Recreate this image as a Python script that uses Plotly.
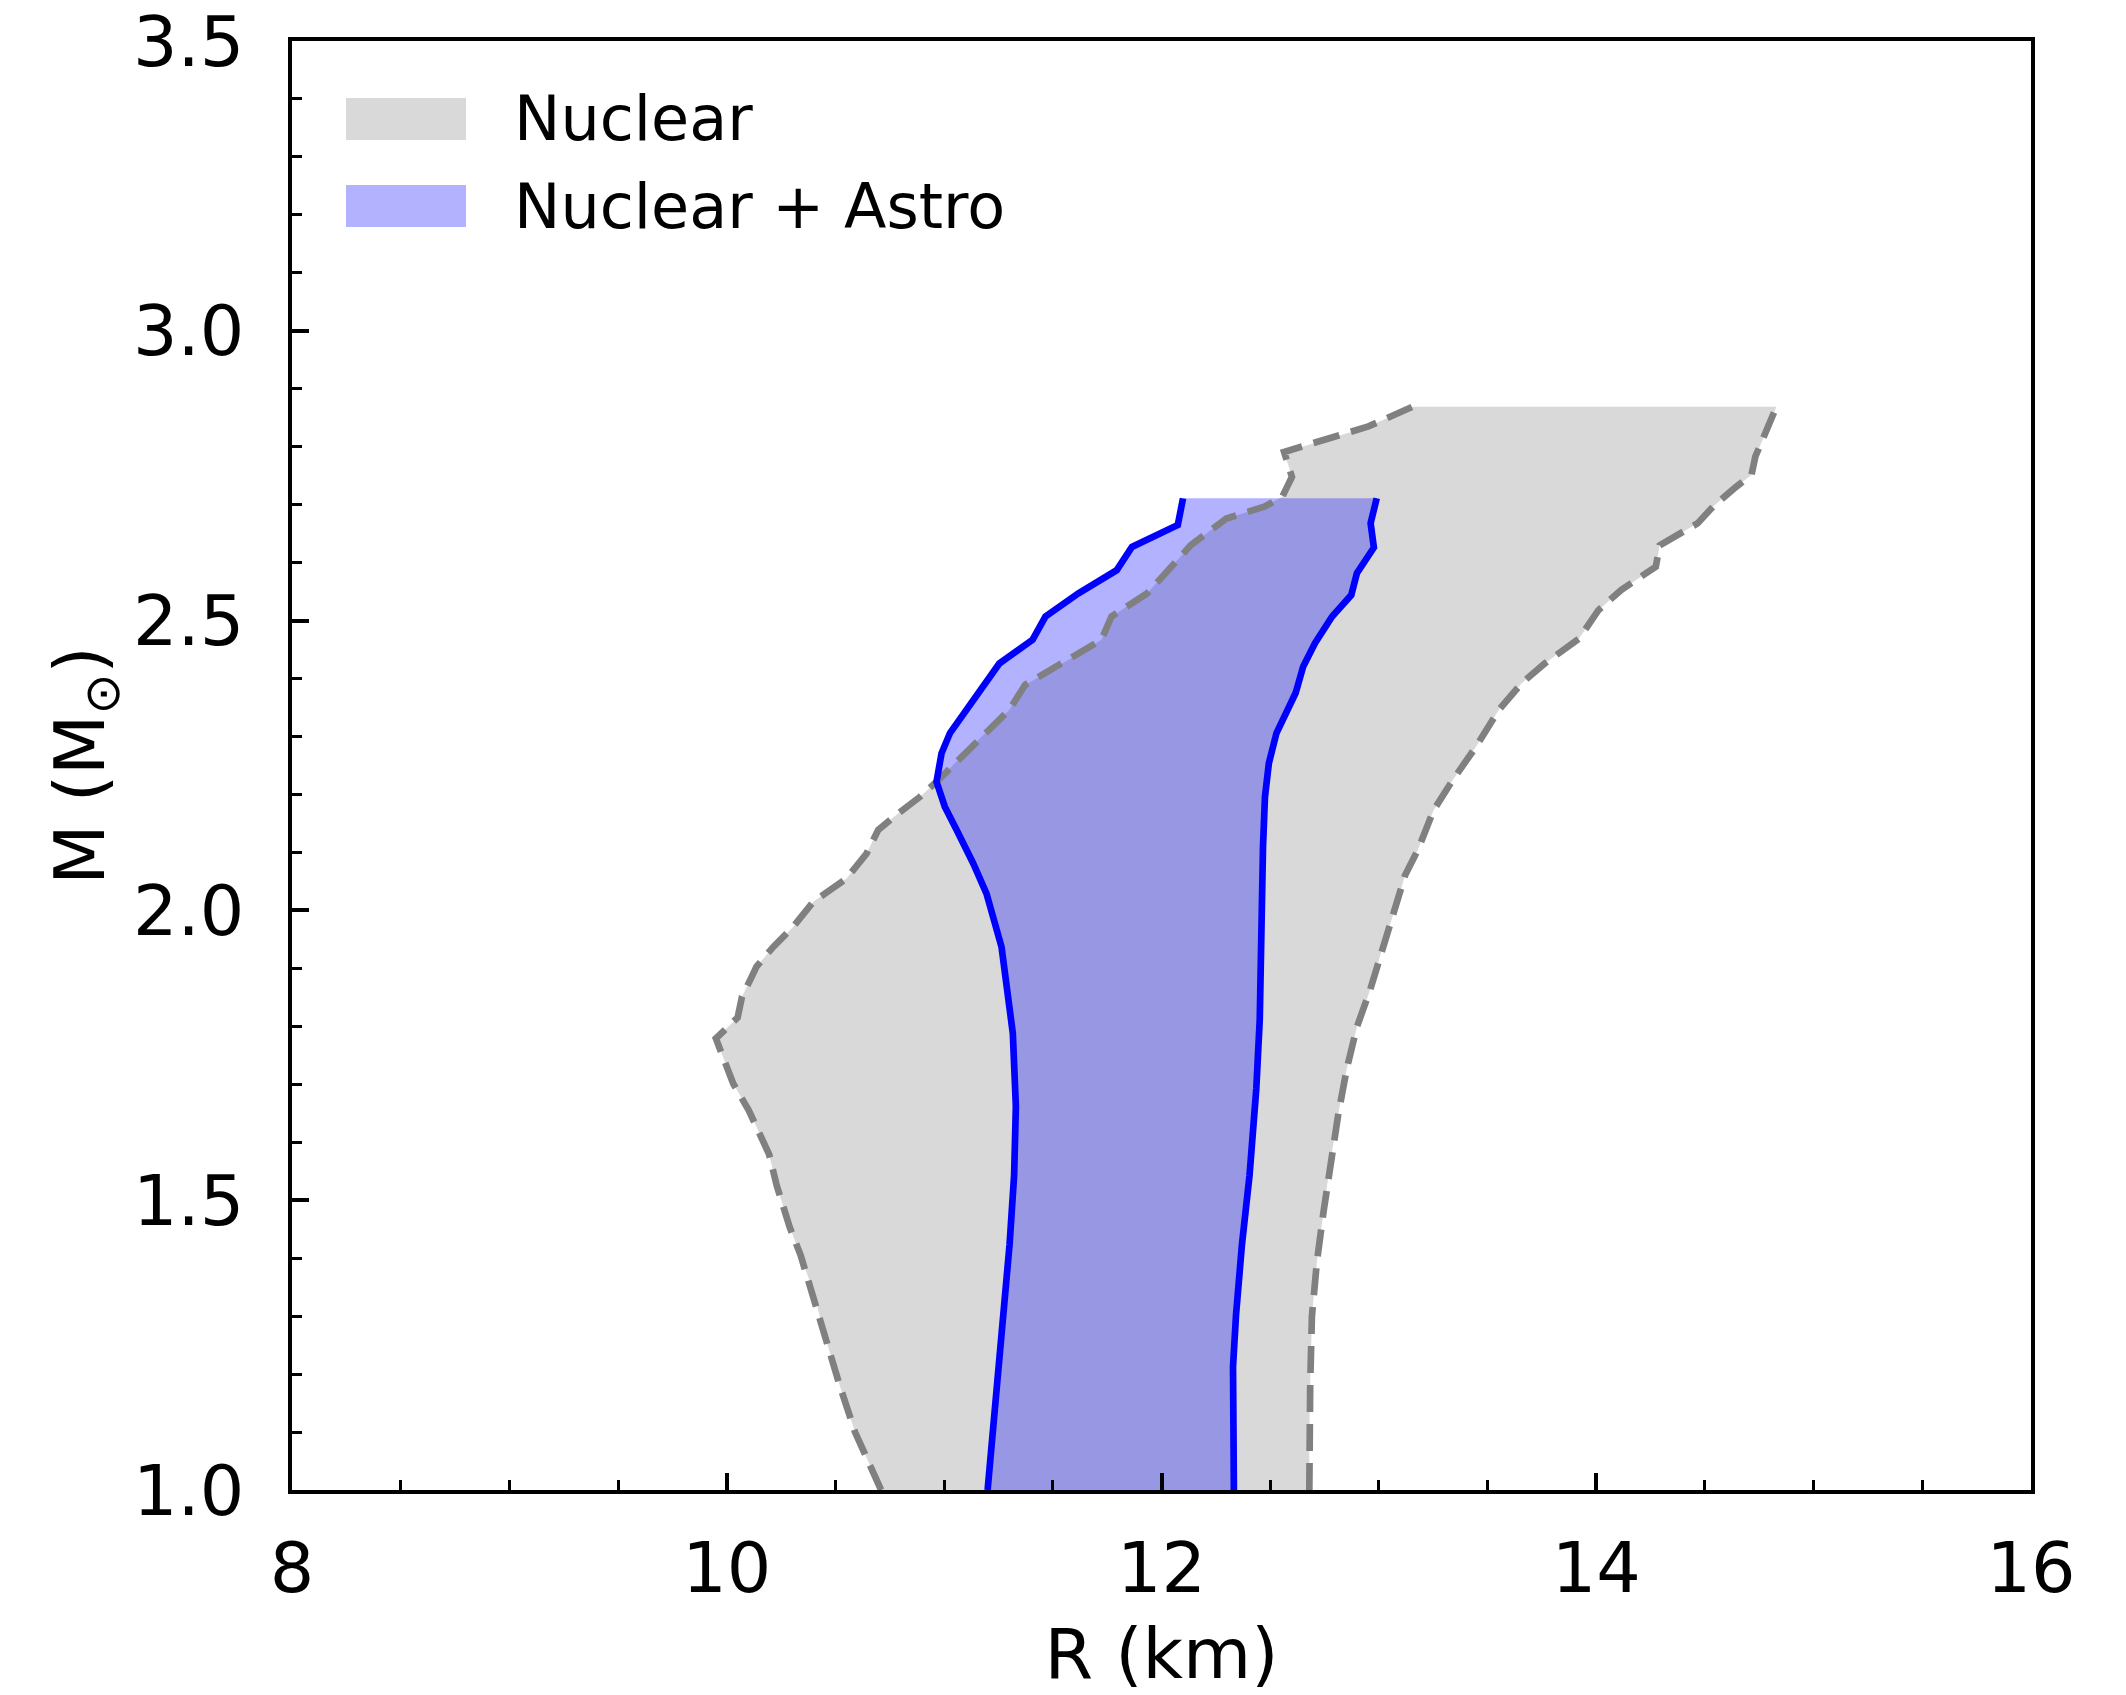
import plotly.graph_objects as go

# ---------------- data (R in km, M in solar masses) ----------------
nuc_left_R = [10.71, 10.65, 10.59, 10.52, 10.46, 10.40, 10.34, 10.29, 10.23, 10.195,
              10.10, 10.03, 9.95, 10.05, 10.07, 10.113, 10.137, 10.214, 10.306, 10.398,
              10.459, 10.551, 10.643, 10.697, 10.781, 10.889, 10.965, 11.057, 11.165, 11.30,
              11.372, 11.571, 11.724, 11.77, 11.934, 12.087, 12.134, 12.298, 12.476, 12.556,
              12.60, 12.564, 12.758, 12.952, 13.155]
nuc_left_M = [1.00, 1.05, 1.10, 1.18, 1.255, 1.34, 1.405, 1.453, 1.525, 1.579,
              1.656, 1.701, 1.779, 1.815, 1.851, 1.884, 1.903, 1.937, 1.972, 2.015,
              2.031, 2.055, 2.098, 2.139, 2.165, 2.196, 2.222, 2.257, 2.297, 2.346,
              2.389, 2.432, 2.467, 2.507, 2.547, 2.61, 2.63, 2.676, 2.697, 2.714,
              2.748, 2.791, 2.812, 2.835, 2.869]

nuc_right_R = [12.68, 12.68, 12.684, 12.692, 12.715, 12.745, 12.776, 12.814, 12.853, 12.899,
               12.96, 13.021, 13.083, 13.12, 13.18, 13.252, 13.34, 13.446, 13.552, 13.657,
               13.763, 13.921, 14.01, 14.115, 14.274, 14.292, 14.467, 14.538, 14.644, 14.714,
               14.732, 14.785, 14.829]
nuc_right_M = [1.00, 1.093, 1.18, 1.30, 1.394, 1.479, 1.564, 1.650, 1.728, 1.799,
               1.863, 1.941, 2.012, 2.06, 2.105, 2.173, 2.225, 2.282, 2.346, 2.392,
               2.426, 2.469, 2.518, 2.553, 2.593, 2.630, 2.668, 2.697, 2.731, 2.751,
               2.783, 2.829, 2.869]

astro_left_R = [11.20, 11.223, 11.248, 11.274, 11.301, 11.322, 11.330, 11.316, 11.295, 11.264,
                11.195, 11.134, 11.057, 11.003, 10.965, 10.988, 11.027, 11.102, 11.184, 11.254,
                11.407, 11.466, 11.618, 11.794, 11.864, 12.075, 12.099]
astro_left_M = [1.00, 1.093, 1.183, 1.303, 1.423, 1.543, 1.662, 1.788, 1.857, 1.937,
                2.029, 2.081, 2.139, 2.179, 2.222, 2.271, 2.306, 2.346, 2.386, 2.426,
                2.467, 2.507, 2.547, 2.587, 2.627, 2.665, 2.711]

astro_right_R = [12.333, 12.329, 12.329, 12.343, 12.370, 12.405, 12.436, 12.452, 12.456, 12.460,
                 12.467, 12.476, 12.494, 12.529, 12.617, 12.652, 12.706, 12.785, 12.873, 12.899,
                 12.977, 12.962, 12.99]
astro_right_M = [1.00, 1.093, 1.213, 1.303, 1.423, 1.543, 1.692, 1.812, 1.932, 2.05,
                 2.11, 2.196, 2.254, 2.306, 2.375, 2.421, 2.461, 2.507, 2.544, 2.582,
                 2.626, 2.668, 2.711]

legend_labels = ["Nuclear", "Nuclear + Astro"]
x_ticks = [8, 10, 12, 14, 16]
y_ticks = [1.0, 1.5, 2.0, 2.5, 3.0, 3.5]

# ---------------- styles ----------------
FONT = "DejaVu Sans"
gray_fill = "rgba(128,128,128,0.3)"
blue_fill = "rgba(0,0,255,0.3)"
OFF = 8  # default page body margin
W, H = 2126 - OFF, 1695 - OFF
L, R_, T, B = 292 - OFF, 95, 41 - OFF, 205

fig = go.Figure()

# fills
fig.add_trace(go.Scatter(x=nuc_left_R + nuc_right_R[::-1], y=nuc_left_M + nuc_right_M[::-1],
                         fill="toself", fillcolor=gray_fill, mode="none", showlegend=False,
                         hoverinfo="skip"))
fig.add_trace(go.Scatter(x=astro_left_R + astro_right_R[::-1], y=astro_left_M + astro_right_M[::-1],
                         fill="toself", fillcolor=blue_fill, mode="none", showlegend=False,
                         hoverinfo="skip"))
# boundaries
for xs, ys in [(nuc_left_R, nuc_left_M), (nuc_right_R, nuc_right_M)]:
    fig.add_trace(go.Scatter(x=xs, y=ys, mode="lines", showlegend=False,
                             line=dict(color="#808080", width=6.7, dash="27px,12px")))
for xs, ys in [(astro_left_R, astro_left_M), (astro_right_R, astro_right_M)]:
    fig.add_trace(go.Scatter(x=xs, y=ys, mode="lines", showlegend=False,
                             line=dict(color="#0000ff", width=6.7)))

# legend (patches + labels), positions given in page pixels of the reference
pw = W - L - R_
ph = H - T - B
def px(xp):
    return (xp - OFF - L) / pw
def py(yp):
    return (H - B - (yp - OFF)) / ph

patches = [(98, 140, gray_fill), (185, 227, blue_fill)]
for (y0, y1, col), lab in zip(patches, legend_labels):
    fig.add_shape(type="rect", xref="paper", yref="paper",
                  x0=px(346), x1=px(466), y0=py(y1), y1=py(y0),
                  fillcolor=col, line=dict(width=0), layer="above")
    fig.add_annotation(xref="paper", yref="paper", x=px(512), y=py((y0 + y1) / 2),
                       text=lab, showarrow=False, xanchor="left", yanchor="middle",
                       font=dict(family=FONT, size=62, color="black"))

axis_common = dict(showline=True, linecolor="black", linewidth=3.5, mirror=True,
                   ticks="inside", ticklen=17, tickwidth=3.5, tickcolor="black",
                   showgrid=False, zeroline=False, automargin=False,
                   ticklabeloverflow="allow",
                   tickfont=dict(family=FONT, size=70, color="black"))

fig.update_xaxes(range=[8, 16], tickvals=x_ticks, ticktext=[str(v) for v in x_ticks],
                 minor=dict(dtick=0.5, ticklen=10, tickwidth=3, ticks="inside", tickcolor="black"),
                 ticklabelstandoff=14,
                 title=dict(text="R (km)", font=dict(family=FONT, size=70, color="black"), standoff=22),
                 **axis_common)
fig.update_yaxes(range=[1, 3.5], tickvals=y_ticks, ticktext=[f"{v:.1f}" for v in y_ticks],
                 minor=dict(dtick=0.1, ticklen=10, tickwidth=3, ticks="inside", tickcolor="black"),
                 ticklabelstandoff=30,
                 title=dict(text="M (M<sub>⊙</sub>)", font=dict(family=FONT, size=70, color="black"), standoff=6),
                 **axis_common)

fig.update_layout(width=W, height=H, autosize=False,
                  margin=dict(l=L, r=R_, t=T, b=B, pad=0, autoexpand=False),
                  paper_bgcolor="white", plot_bgcolor="white",
                  font=dict(family=FONT, color="black"))

fig.write_html("out.html")
